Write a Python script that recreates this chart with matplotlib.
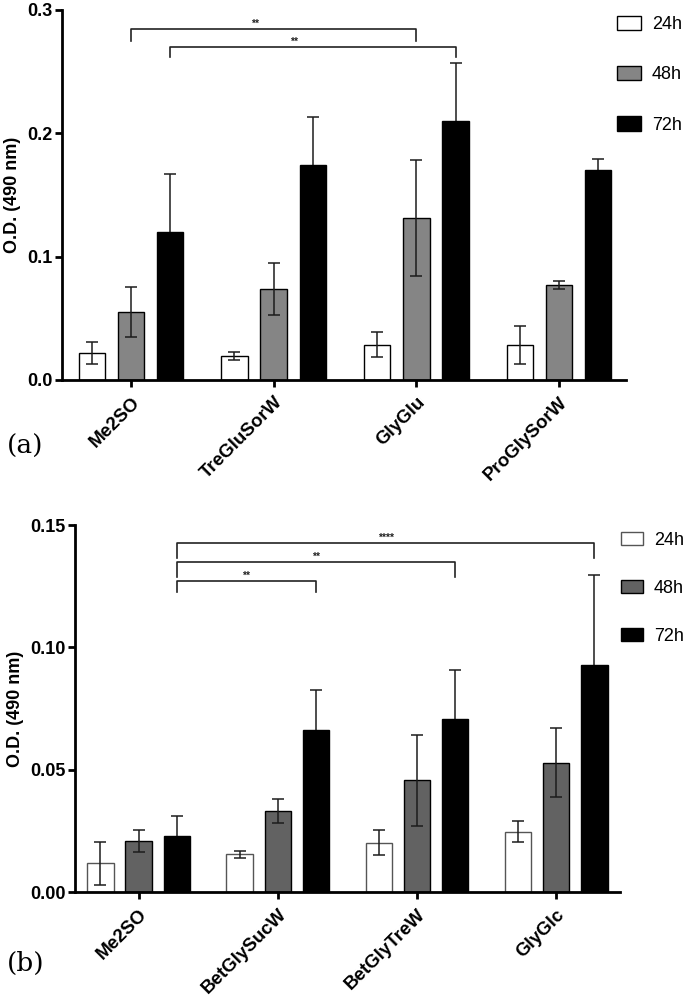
import numpy as np
import matplotlib
matplotlib.use("Agg")
import matplotlib.pyplot as plt
from matplotlib.patches import Patch

plt.rcParams['font.family'] = ['Liberation Sans', 'DejaVu Sans']

SERIES = ['24h', '48h', '72h']

# panel (a)
cats_a = ['Me2SO', 'TreGluSorW', 'GlyGlu', 'ProGlySorW']
mean_a = {
    '24h': [0.022, 0.0195, 0.0285, 0.0285],
    '48h': [0.055, 0.074, 0.131, 0.077],
    '72h': [0.120, 0.174, 0.210, 0.170],
}
err_a = {
    '24h': [0.009, 0.003, 0.010, 0.0155],
    '48h': [0.020, 0.021, 0.047, 0.0035],
    '72h': [0.047, 0.039, 0.047, 0.0095],
}
# (from group, from series, to group, to series, line y, drop y, label)
sig_a = [
    (0, 1, 2, 1, 0.2847, 0.2748, '**'),
    (0, 2, 2, 2, 0.2703, 0.2617, '**'),
]
colors_a = ['white', '#858585', 'black']

# panel (b)
cats_b = ['Me2SO', 'BetGlySucW', 'BetGlyTreW', 'GlyGlc']
mean_b = {
    '24h': [0.0117, 0.0154, 0.0202, 0.0247],
    '48h': [0.0209, 0.0332, 0.0456, 0.0529],
    '72h': [0.0227, 0.0662, 0.0706, 0.0927],
}
err_b = {
    '24h': [0.0087, 0.0015, 0.005, 0.0044],
    '48h': [0.0045, 0.0048, 0.0185, 0.0141],
    '72h': [0.0085, 0.0165, 0.020, 0.037],
}
sig_b = [
    (0, 2, 3, 2, 0.1426, 0.1365, '****'),
    (0, 2, 2, 2, 0.1349, 0.1287, '**'),
    (0, 2, 1, 2, 0.1271, 0.1226, '**'),
]
colors_b = ['white', '#626262', 'black']


def draw_panel(ax, cats, means, errs, colors, edge_white, sig, ylim, yticks, fmt,
               xlim, width, step, star_shift):
    x = np.arange(len(cats))
    offsets = [-step, 0, step]
    for i, s in enumerate(SERIES):
        ec = edge_white if i == 0 else 'black'
        ax.bar(x + offsets[i], means[s], width, color=colors[i], edgecolor=ec,
               linewidth=1.0, zorder=2)
        # black bars hide the lower half of their error bar
        ez = 1.5 if colors[i] == 'black' else 3
        ax.errorbar(x + offsets[i], means[s], yerr=errs[s], fmt='none',
                    ecolor='#1c1c1c', elinewidth=1.1, capsize=4.5, capthick=1.1, zorder=ez)

    for g1, s1, g2, s2, yl, yd, txt in sig:
        x1 = g1 + offsets[s1]
        x2 = g2 + offsets[s2]
        ax.plot([x1, x1, x2, x2], [yd, yl, yl, yd], color='#222222', lw=1.2,
                clip_on=False, zorder=4)
        ax.text((x1 + x2) / 2 + star_shift, yl, txt, ha='center', va='bottom',
                fontsize=7.5, fontweight='bold', color='#222222')

    ax.set_xlim(*xlim)
    ax.set_ylim(*ylim)
    ax.set_yticks(yticks)
    ax.set_yticklabels([fmt.format(v) for v in yticks])
    ax.set_xticks(x)
    ax.set_xticklabels(cats, rotation=45, ha='right', rotation_mode='anchor',
                       fontweight='bold', fontsize=13.5)
    for t in ax.get_yticklabels():
        t.set_fontweight('bold')
        t.set_fontsize(13)
    ax.spines['top'].set_visible(False)
    ax.spines['right'].set_visible(False)
    ax.spines['left'].set_linewidth(2)
    ax.spines['bottom'].set_linewidth(2)
    ax.tick_params(axis='both', width=2, length=5, direction='out')
    ax.tick_params(axis='x', pad=5)
    ax.tick_params(axis='y', pad=2)
    ax.set_ylabel('O.D. (490 nm)', fontweight='bold', fontsize=13, labelpad=4)


def add_legend(fig, colors, edge_white, anchor, hl, hh, ls):
    handles = [Patch(facecolor=colors[i],
                     edgecolor=(edge_white if i == 0 else 'black'),
                     label=s) for i, s in enumerate(SERIES)]
    fig.legend(handles=handles, loc='upper left', bbox_to_anchor=anchor,
               frameon=False, fontsize=13, handlelength=hl, handleheight=hh,
               labelspacing=ls, handletextpad=0.6, borderpad=0, borderaxespad=0)


fig = plt.figure(figsize=(6.88, 9.97), dpi=100)

ax_a = fig.add_axes([0.090, 0.619, 0.820, 0.371])
draw_panel(ax_a, cats_a, mean_a, err_a, colors_a, 'black', sig_a,
           (0, 0.3), [0.0, 0.1, 0.2, 0.3], '{:.1f}', (-0.484, 3.47), 0.185, 0.275,
           -0.13)
add_legend(fig, colors_a, 'black', (0.8968, 0.984), 1.33, 0.83, 1.82)

ax_b = fig.add_axes([0.109, 0.1053, 0.792, 0.3681])
draw_panel(ax_b, cats_b, mean_b, err_b, colors_b, '#555555', sig_b,
           (0, 0.15), [0.0, 0.05, 0.10, 0.15], '{:.2f}', (-0.457, 3.457), 0.19, 0.274,
           0.0)
add_legend(fig, colors_b, '#555555', (0.9026, 0.4664), 1.22, 0.72, 1.71)

serif = ['DejaVu Serif']
fig.text(0.010, 0.552, '(a)', fontsize=19, family=serif, va='center', ha='left')
fig.text(0.010, 0.034, '(b)', fontsize=19, family=serif, va='center', ha='left')

fig.savefig('out.png', dpi=100)
